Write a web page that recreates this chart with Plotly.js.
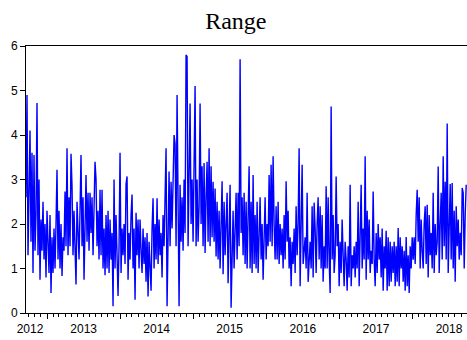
<!DOCTYPE html>
<html><head><meta charset="utf-8">
<script src="https://cdn.plot.ly/plotly-3.0.1.min.js"></script>
<style>html,body{margin:0;padding:0;background:#fff}#chart{width:467px;height:340px}</style>
</head><body><div id="chart"></div>
<script>
const chartTitle = 'Range';
const startDate = '2012-09-18';
const endDate = '2018-10-01';
const stepDays = 5;

const v2012 = [2.6,4.9,1.3,2.5,4.1,1.6,3.6,0.9,3.55,1.4,2.2,4.72,1.3,3.0,0.75,2.1,1.4,2.5,1.2,2.0,0.8];
const v2013 = [2.3,1.3,0.9,2.2,0.45,1.7,0.9,1.9,1.0,2.0,
  3.22,1.2,2.3,1.0,2.0,0.83,1.7,1.4,2.73,1.5,
  3.7,1.3,2.6,1.5,3.58,2.85,1.3,2.3,1.5,0.64,
  2.5,1.6,1.2,2.3,3.55,1.5,2.6,0.75,2.0,3.1,
  1.6,2.7,1.4,2.7,1.8,2.6,1.3,2.4,3.4,3.0,
  1.5,2.3,1.2,2.77,1.3,2.77,1.0,1.9,0.85,2.2,
  1.0,2.3,0.9,2.1,1.2,1.8,0.15,3.0,1.0,2.2,
  0.8,0.38,1.5,3.6];
const v2014 = [0.9,1.9,1.3,2.0,1.1,2.9,3.07,0.75,1.8,1.2,
  2.2,2.66,1.0,1.9,0.3,2.25,1.3,2.1,1.0,2.1,
  1.4,0.9,1.9,1.1,1.7,0.7,1.8,0.37,1.6,1.0,
  0.5,1.9,2.58,1.0,2.0,1.2,2.58,1.1,2.1,1.3,
  1.8,0.8,2.2,1.5,2.4,3.7,0.15,2.2,3.18,1.5,
  2.95,1.9,3.3,4.0,3.8,1.5,4.9,2.5,0.15,2.88,
  1.6,2.6,1.4,3.0,1.8,5.8,5.76,1.5,2.9,4.71,
  2.0,3.0];
const v2015 = [1.6,3.5,5.1,1.5,3.0,1.6,2.4,4.71,2.0,3.3,
  1.5,3.37,1.35,2.6,3.4,1.6,3.7,1.5,3.3,1.7,
  2.95,1.6,2.8,1.27,2.5,1.2,2.3,1.0,1.9,2.96,
  0.87,2.5,1.3,2.0,2.7,0.67,1.9,2.88,0.12,1.8,
  2.3,1.0,2.0,2.7,1.2,2.7,1.5,5.7,1.8,2.6,
  1.3,2.7,1.1,2.5,1.0,2.0,3.3,1.0,2.5,0.9,
  3.1,1.1,2.2,1.0,2.5,0.9,1.9,2.6,1.2,2.0,
  0.75,1.8,2.6,1.2];
const v2016 = [2.0,1.5,3.1,1.6,3.33,1.5,3.52,2.0,1.2,2.4,
  1.2,2.5,1.1,2.0,1.3,1.9,1.0,2.2,1.2,2.96,
  1.6,2.3,1.0,1.7,0.6,1.6,1.1,1.9,0.9,2.4,
  1.3,2.0,3.7,0.6,1.8,3.33,1.1,1.5,1.7,1.0,
  2.7,0.7,1.2,1.6,1.0,2.4,0.8,2.48,1.9,0.9,
  2.0,2.6,1.2,2.4,1.0,2.2,0.7,1.5,1.0,2.85,
  1.0,2.6,1.2,0.45,4.64,1.2,2.2,0.9,1.3,3.07,
  1.5,2.0];
const v2017 = [0.6,1.6,0.9,2.1,1.3,0.6,1.6,1.2,0.5,1.5,
  0.8,2.88,0.6,1.3,1.0,1.5,0.8,1.6,1.0,2.5,
  0.6,1.6,2.88,1.0,1.9,1.2,3.52,0.75,2.3,1.2,
  2.1,0.9,1.4,1.1,2.73,1.2,0.6,1.8,0.9,2.0,
  1.2,1.7,0.8,1.9,0.5,1.5,1.0,1.85,0.5,1.7,
  0.6,1.6,0.7,1.5,0.9,1.6,0.6,1.5,0.7,1.91,
  0.6,1.7,1.0,1.5,0.7,1.4,0.5,1.71,0.6,1.3,
  0.45,1.5,1.0,1.7];
const v2018 = [1.2,1.7,1.1,2.2,2.77,1.6,2.6,1.0,2.1,1.4,
  1.0,2.0,2.4,1.1,2.43,0.8,2.2,1.3,1.8,1.0,
  2.7,0.9,2.0,1.3,1.6,3.29,0.9,2.0,2.7,1.2,
  3.52,1.5,2.95,1.2,4.26,0.9,2.2,2.9,1.2,2.92,
  1.0,2.3,0.7,2.4,1.5,2.1,1.2,1.8,1.3,2.81,
  2.7,1.0,2.2,2.88];

const yearTicks0 = '2013-01-01';
const labelDates = ['2012-10-08','2013-07-03','2014-07-03','2015-07-03','2016-07-03','2017-07-03','2018-07-03'];
const labelText = ['2012','2013','2014','2015','2016','2017','2018'];
const yTickVals = [0,1,2,3,4,5,6];

const values = [].concat(v2012, v2013, v2014, v2015, v2016, v2017, v2018);
const t0 = Date.parse(startDate + 'T00:00:00Z');
const dates = values.map((_, i) => new Date(t0 + i * stepDays * 86400000).toISOString().slice(0, 10));

const axFont = {family: 'Liberation Sans, Arial, sans-serif', size: 12, color: '#000'};

const traces = [
  {type: 'scatter', mode: 'lines', x: dates, y: values, line: {color: '#0000FF', width: 1.4}, hoverinfo: 'skip'},
  {type: 'scatter', mode: 'lines', x: [], y: [], xaxis: 'x2', yaxis: 'y', hoverinfo: 'skip'}
];

const layout = {
  width: 467, height: 340,
  margin: {l: 26, r: 0, t: 46, b: 27, pad: 0},
  paper_bgcolor: '#fff', plot_bgcolor: '#fff',
  showlegend: false,
  font: axFont,
  title: {text: chartTitle, font: {family: 'Liberation Serif, Times New Roman, serif', size: 24, color: '#000'},
          x: 0.505, xref: 'container', xanchor: 'center', y: 0.938, yref: 'container', yanchor: 'middle'},
  xaxis: {type: 'date', range: [startDate, endDate], tickmode: 'linear', tick0: yearTicks0, dtick: 'M12',
          ticks: 'outside', ticklen: 5, tickcolor: '#000', tickwidth: 1, showticklabels: false,
          showline: true, linecolor: '#000', linewidth: 1, mirror: true, showgrid: false, zeroline: false,
          minor: {ticks: 'outside', ticklen: 3, dtick: 'M1', tick0: '2012-01-01', tickcolor: '#000', tickwidth: 1, showgrid: false}},
  xaxis2: {type: 'date', overlaying: 'x', anchor: 'y', side: 'bottom', range: [startDate, endDate],
           tickmode: 'array', tickvals: labelDates, ticktext: labelText, ticks: '', showline: false,
           showgrid: false, zeroline: false, tickfont: axFont, ticklabelstandoff: 7},
  yaxis: {range: [0, 6], tickmode: 'array', tickvals: yTickVals, ticks: 'outside', ticklen: 5, tickcolor: '#000',
          showline: true, linecolor: '#000', linewidth: 1, showgrid: false, zeroline: false, tickfont: axFont}
};

Plotly.newPlot('chart', traces, layout, {displayModeBar: false, staticPlot: true});
</script></body></html>
